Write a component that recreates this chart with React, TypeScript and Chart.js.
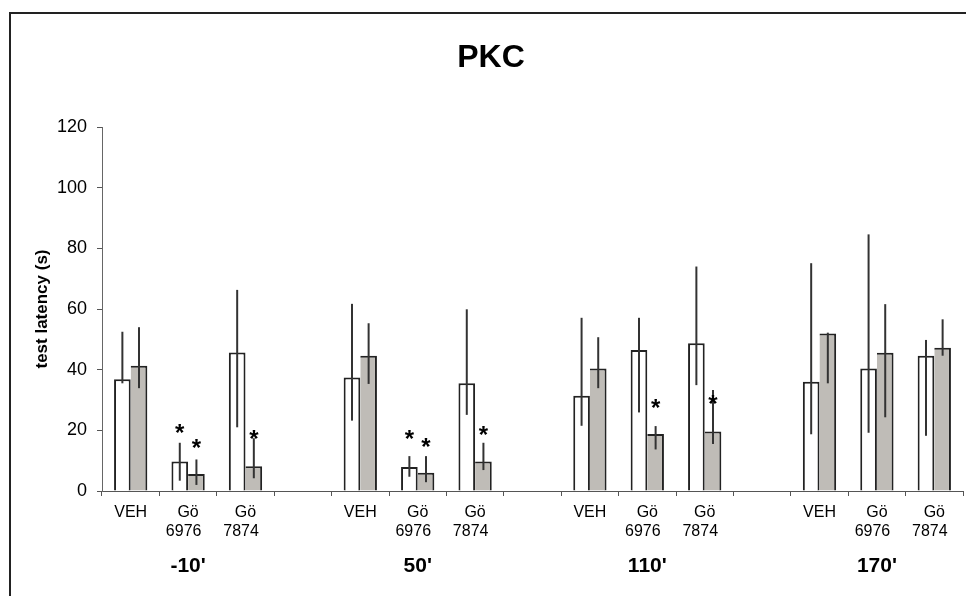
import React, { useEffect, useRef } from "react";
import { Chart, registerables } from "chart.js";

Chart.register(...registerables);

const FONT = "'Liberation Sans', Arial, sans-serif";

const categories: (string | string[])[] = [
  "VEH", ["Gö", "6976  "], ["Gö", "7874  "], "",
  "VEH", ["Gö", "6976  "], ["Gö", "7874  "], "",
  "VEH", ["Gö", "6976  "], ["Gö", "7874  "], "",
  "VEH", ["Gö", "6976  "], ["Gö", "7874  "],
];

const groupLabels = ["", "-10'", "", "", "", "50'", "", "", "", "110'", "", "", "", "170'", ""];

const whiteMeans = [36.8, 9.7, 45.7, null, 37.4, 7.9, 35.5, null, 31.4, 46.5, 48.7, null, 36.0, 40.4, 44.6];
const whiteHigh = [52.5, 15.9, 66.3, null, 61.7, 11.5, 59.9, null, 57.1, 57.1, 74.0, null, 75.1, 84.6, 49.8];
const whiteLow = [35.5, 3.4, 21.0, null, 23.2, 4.7, 25.1, null, 21.5, 25.9, 34.9, null, 18.7, 19.2, 18.2];

const grayMeans = [41.3, 5.6, 8.2, null, 44.6, 6.0, 9.7, null, 40.4, 18.8, 19.6, null, 51.9, 45.6, 47.2];
const grayHigh = [54.0, 10.4, 17.4, null, 55.3, 11.5, 15.9, null, 50.7, 21.4, 33.3, null, 52.2, 61.6, 56.6];
const grayLow = [33.9, 2.0, 4.2, null, 35.3, 2.9, 6.9, null, 33.9, 13.7, 15.5, null, 35.5, 24.3, 44.6];

const whiteStars = [null, 21.1, null, null, null, 19.0, null, null, null, null, null, null, null, null, null];
const grayStars = [null, 16.2, 19.0, null, null, 16.6, 20.4, null, null, 29.4, 30.6, null, null, null, null];

const yTicks = [0, 20, 40, 60, 80, 100, 120];

const errorLows = [whiteLow, grayLow];
const errorHighs = [whiteHigh, grayHigh];
const starSets = [whiteStars, grayStars];

const errorPlugin = {
  id: "errorsAndStars",
  afterDatasetsDraw(chart: any) {
    const ctx = chart.ctx;
    const y = chart.scales.y;
    ctx.save();
    for (let d = 0; d < 2; d++) {
      const meta = chart.getDatasetMeta(d);
      meta.data.forEach((el: any, i: number) => {
        const lo = errorLows[d][i];
        const hi = errorHighs[d][i];
        if (lo == null || hi == null) return;
        ctx.beginPath();
        ctx.strokeStyle = "#333";
        ctx.lineWidth = 2;
        ctx.moveTo(el.x, y.getPixelForValue(lo));
        ctx.lineTo(el.x, y.getPixelForValue(hi));
        ctx.stroke();
      });
    }
    for (let d = 0; d < 2; d++) {
      const meta = chart.getDatasetMeta(d);
      meta.data.forEach((el: any, i: number) => {
        const s = starSets[d][i];
        if (s == null) return;
        const size = 24;
        ctx.font = `bold ${size}px ${FONT}`;
        ctx.fillStyle = "#000";
        ctx.textAlign = "center";
        ctx.textBaseline = "alphabetic";
        ctx.fillText("*", el.x, y.getPixelForValue(s) + size * 0.58);
      });
    }
    ctx.restore();
  },
};

export default function App() {
  const canvasRef = useRef<HTMLCanvasElement | null>(null);

  useEffect(() => {
    if (!canvasRef.current) return;
    const chart = new Chart(canvasRef.current, {
      type: "bar",
      data: {
        labels: categories as any,
        datasets: [
          {
            label: "white",
            data: whiteMeans as any,
            backgroundColor: "#ffffff",
            borderColor: "#222",
            borderWidth: 2,
            borderSkipped: "start",
            categoryPercentage: 0.58,
            barPercentage: 1.0,
          },
          {
            label: "gray",
            data: grayMeans as any,
            backgroundColor: "#bfbcb7",
            borderColor: "#222",
            borderWidth: { top: 2, right: 2, left: 0, bottom: 0 } as any,
            borderSkipped: "start",
            categoryPercentage: 0.58,
            barPercentage: 1.0,
          },
        ],
      },
      options: {
        responsive: false,
        animation: false,
        devicePixelRatio: 1,
        layout: { padding: { left: 0, right: 0, top: 0, bottom: 0 } },
        plugins: {
          legend: { display: false },
          tooltip: { enabled: false },
          title: {
            display: true,
            text: "PKC",
            color: "#000",
            font: { family: FONT, size: 32, weight: "bold", lineHeight: 1.2 },
            padding: { top: 39, bottom: 49.6 },
          },
        },
        scales: {
          x: {
            type: "category",
            offset: true,
            weight: 0,
            grid: {
              display: true,
              offset: true,
              drawOnChartArea: false,
              drawTicks: true,
              tickLength: 5,
              color: "#555",
            },
            border: { display: true, color: "#555", width: 1 },
            ticks: {
              autoSkip: false,
              maxRotation: 0,
              minRotation: 0,
              padding: 7,
              color: "#000",
              font: { family: FONT, size: 16, lineHeight: 1.1875 },
            },
            afterFit(scale: any) {
              scale.height = 60;
            },
          } as any,
          x2: {
            type: "category",
            position: "bottom",
            labels: groupLabels,
            offset: true,
            weight: 1,
            grid: { display: false, drawTicks: false, drawOnChartArea: false },
            border: { display: false },
            ticks: {
              autoSkip: false,
              maxRotation: 0,
              minRotation: 0,
              padding: 3,
              color: "#000",
              font: { family: FONT, size: 21, weight: "bold", lineHeight: 1.2 },
            },
            afterFit(scale: any) {
              scale.height = 45;
            },
          } as any,
          y: {
            min: 0,
            max: 120,
            grid: {
              display: true,
              drawOnChartArea: false,
              drawTicks: true,
              tickLength: 5,
              color: "#555",
            },
            border: { display: true, color: "#666", width: 1 },
            afterBuildTicks(scale: any) {
              scale.ticks = yTicks.map((v) => ({ value: v }));
            },
            ticks: {
              padding: 10,
              color: "#000",
              font: { family: FONT, size: 18 },
            },
            title: {
              display: true,
              text: "test latency (s)",
              color: "#000",
              font: { family: FONT, size: 17, weight: "bold", lineHeight: 1.2 },
              padding: { top: 32, bottom: 0 },
            },
            afterFit(scale: any) {
              scale.width = 102;
            },
          } as any,
          yRight: {
            position: "right",
            min: 0,
            max: 120,
            grid: { display: false, drawTicks: false, drawOnChartArea: false },
            border: { display: false },
            ticks: { display: false },
            afterFit(scale: any) {
              scale.width = 19;
            },
          } as any,
        },
      },
      plugins: [errorPlugin],
    });
    return () => chart.destroy();
  }, []);

  return (
    <div
      style={{
        position: "fixed",
        left: 0,
        top: 0,
        width: 966,
        height: 596,
        overflow: "hidden",
        background: "#fff",
      }}
    >
      <div
        style={{
          position: "absolute",
          left: 9,
          top: 12,
          width: 980,
          height: 620,
          borderTop: "2px solid #222",
          borderLeft: "2px solid #222",
          boxSizing: "border-box",
        }}
      />
      <canvas
        ref={canvasRef}
        width={982}
        height={596}
        style={{ position: "absolute", left: 0, top: 0, display: "block" }}
      />
    </div>
  );
}
